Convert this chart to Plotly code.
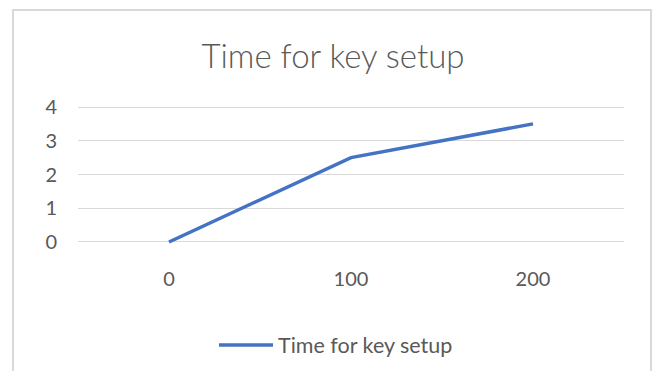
import plotly.graph_objects as go

categories = ["0", "100", "200"]
values = [0, 2.5, 3.5]
series_name = "Time for key setup"
title_text = "Time for key setup"
y_ticks = [0, 1, 2, 3, 4]

W, H = 653, 371
# plot area: value 4 at y=107, value 0 at y=242, x from 78 to 624
PAD = 0.06
unit = (242 - 107) / 4.0
T = 107 - PAD * unit
B = H - (242 + PAD * unit)
L, R = 78, W - 624
pw, ph = W - L - R, H - T - B

def px_x(x):
    return (x - L) / pw

def px_y(y):
    return (H - B - y) / ph

fig = go.Figure()
fig.add_trace(go.Scatter(
    x=categories, y=values, mode="lines", name=series_name,
    line=dict(color="#4472C4", width=3.5),
))

fig.update_layout(
    width=W, height=H,
    margin=dict(l=L, r=R, t=T, b=B, pad=0, autoexpand=False),
    paper_bgcolor="white", plot_bgcolor="white",
    font=dict(family="Lato, sans-serif", color="#595959"),
    title=dict(text=title_text, x=333 / W, xanchor="center", xref="container",
               y=1 - 56 / H, yanchor="middle",
               font=dict(size=33, color="#595959", family="Lato", weight=300)),
    showlegend=True,
    legend=dict(orientation="h", x=px_x(214), xanchor="left",
                y=px_y(345), yanchor="middle",
                itemwidth=54,
                font=dict(size=21.5, color="#595959"),
                bgcolor="rgba(0,0,0,0)"),
    xaxis=dict(type="category", range=[-0.5, 2.5], showgrid=False,
               zeroline=False, showline=False, ticks="",
               tickfont=dict(size=20, color="#595959"),
               ticklabelstandoff=21),
    yaxis=dict(range=[-PAD, 4 + PAD], tickvals=y_ticks, showgrid=True,
               gridcolor="#d9d9d9", gridwidth=1.3, zeroline=False,
               showline=False, ticks="",
               tickfont=dict(size=20, color="#595959"),
               ticklabelstandoff=20),
    shapes=[dict(type="rect", xref="paper", yref="paper",
                 x0=px_x(13), x1=px_x(651), y0=px_y(380), y1=px_y(10),
                 line=dict(color="#d9d9d9", width=2), layer="below")],
)

fig.write_html("out.html", config={"displayModeBar": False},
               post_script="document.body.style.margin='0';")
